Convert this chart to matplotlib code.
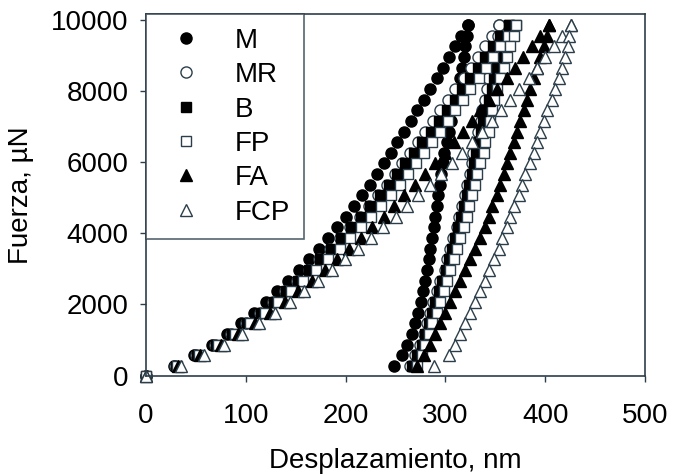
import matplotlib
matplotlib.use('Agg')
import matplotlib.pyplot as plt

plt.rcParams['font.family'] = ['Liberation Sans', 'DejaVu Sans']

# niveles de carga (uN), iguales para carga y descarga
fuerza = [270, 570, 870, 1170, 1470, 1770, 2070, 2370, 2670, 2970, 3270,
          3570, 3870, 4170, 4470, 4770, 5070, 5370, 5670, 5970, 6270, 6570,
          6870, 7170, 7470, 7770, 8070, 8370, 8670, 8970, 9270, 9570, 9870]

# desplazamiento (nm) en la carga
carga_M = [28, 48, 66, 81, 95, 108, 120, 131, 142, 153, 163, 173, 182, 191, 200, 208, 216,
           224, 231, 238, 245, 252, 259, 266, 272, 279, 285, 292, 298, 304, 310, 316, 323]
carga_MR = [29.5, 50.5, 69.5, 85.5, 100.5, 114.5, 127.5, 139.5, 151.5, 163, 173.5, 184.5,
            194.5, 204.5, 214.5, 223.5, 232.5, 241.5, 249.5, 257, 264.5, 272.5, 280, 288,
            295, 303, 310, 319, 326, 333, 340, 346.5, 354]
carga_B = [30, 51, 70, 86, 101, 115, 128, 140, 152, 163.5, 174, 185, 195, 205, 215.5, 224.5,
           234, 243, 251.5, 260, 268.5, 277, 285.5, 294, 302, 310, 317, 325, 332.5, 340,
           347.5, 355, 363.5]
carga_FP = [31, 53, 72.5, 89, 104.5, 119, 132.5, 145, 157.5, 170, 182, 194, 204.5, 215,
            225.5, 235, 245, 255, 263, 271, 279, 287, 295, 303, 310, 318, 325, 333.5, 341,
            348, 355, 362.5, 371]
carga_FA = [32, 54.5, 75, 92.5, 109, 124.5, 139, 152.5, 166, 179, 191, 203.5, 215, 226.5,
            238, 248.5, 259, 270, 280, 290, 299.5, 309, 318, 327, 335, 344, 352, 361.5, 370,
            378, 386.5, 395, 404]
carga_FCP = [35, 58, 78.5, 96, 113, 129, 144, 158, 172, 186, 199, 212.5, 225, 237.5, 250,
             261.5, 273, 285, 296, 307, 317, 327, 337, 347, 355.5, 365, 373.5, 383.5, 392,
             400, 408.5, 417, 426]

# desplazamiento (nm) en la descarga, mismo orden que fuerza
descarga_M = [248.5, 257, 262, 266.5, 270, 273, 275.5, 278, 280, 282, 283.5, 285, 287,
              288.5, 290, 291.5, 293, 294.5, 296, 297.5, 299, 301.5, 303.5, 305.5, 307.5,
              310, 312.5, 314.5, 316.5, 318.5, 320, 321.5, 323]
descarga_MR = [265, 270, 275, 278.5, 281.5, 285, 288, 291.5, 295, 299.5, 301.5, 305, 308,
               311.5, 313.5, 316.5, 319.5, 321.5, 324.5, 326.5, 328, 331, 333, 335.5, 337,
               339.5, 342, 343, 345.5, 348, 349.5, 352.5, 354]
descarga_B = [267, 272, 277, 280, 283.5, 287, 290, 293.5, 297, 300.5, 303.5, 307, 310, 313,
              315.5, 318.5, 321.5, 323.5, 326.5, 328.5, 330.5, 333.5, 335.5, 338, 340.5,
              343.5, 346.5, 348.5, 352, 355, 357.5, 361, 363.5]
descarga_FP = [272, 277, 280, 283.5, 287, 292, 295, 298.5, 302, 305, 308.5, 312, 315, 318.5,
               322, 323.5, 327, 330, 332, 335, 338.5, 340, 343.5, 345, 347, 348.5, 352, 355,
               358.5, 362, 365, 368.5, 371]
descarga_FA = [272, 278.5, 285, 290, 295, 300, 305, 310, 315, 320, 325, 330, 335, 340,
               343.5, 347, 352, 355, 358.5, 362, 365, 368.5, 372, 375, 378.5, 382, 385,
               388.5, 392, 395, 398.5, 402, 404]
descarga_FCP = [288.5, 303.5, 310, 315, 320, 325, 330, 335, 340, 343.5, 348.5, 353.5, 357,
                362, 365, 368.5, 373.5, 377, 380, 385, 388.5, 392, 395, 398.5, 402, 407,
                410, 413.5, 417, 420, 423, 424, 426]

muestras = ['M', 'MR', 'B', 'FP', 'FA', 'FCP']
cargas = [carga_M, carga_MR, carga_B, carga_FP, carga_FA, carga_FCP]
descargas = [descarga_M, descarga_MR, descarga_B, descarga_FP, descarga_FA, descarga_FCP]

borde = '#2c3e4a'
estilos = {
    'M': dict(marker='o', ms=8, mfc='black', mec='black'),
    'MR': dict(marker='o', ms=8, mfc='white', mec=borde),
    'B': dict(marker='s', ms=7, mfc='black', mec='black'),
    'FP': dict(marker='s', ms=7, mfc='white', mec=borde),
    'FA': dict(marker='^', ms=8, mfc='black', mec='black'),
    'FCP': dict(marker='^', ms=8, mfc='white', mec=borde),
}

fig = plt.figure(figsize=(6.74, 4.74), dpi=100)
ax = fig.add_axes([0.2166, 0.2078, 0.7404, 0.7627])

for nombre, carga, descarga in zip(muestras, cargas, descargas):
    x = [0] + carga + descarga[::-1]
    y = [0] + fuerza + fuerza[::-1]
    ax.plot(x, y, linestyle='none', mew=1.0, label=nombre, clip_on=False,
            **estilos[nombre])

ax.set_xlim(0, 500)
ax.set_ylim(0, 10180)
ax.set_xticks(range(0, 501, 100))
ax.set_yticks(range(0, 10001, 2000))
ax.tick_params(direction='out', length=4.5, width=1, color=borde, labelsize=20,
               top=False, right=False)
ax.tick_params(axis='x', pad=15)
ax.tick_params(axis='y', pad=8)
for s in ax.spines.values():
    s.set_color(borde)
    s.set_linewidth(1.2)

ax.set_xlabel('Desplazamiento, nm', fontsize=20, labelpad=14)
ax.set_ylabel('Fuerza, µN', fontsize=20, labelpad=12)

leg = ax.legend(loc='upper left', borderaxespad=0, fontsize=20, frameon=True,
                fancybox=False, edgecolor=borde, handletextpad=0.8,
                handlelength=1.9, labelspacing=0.3, borderpad=0.5)
leg.get_frame().set_linewidth(1.2)

fig.savefig('out.png', dpi=100)
